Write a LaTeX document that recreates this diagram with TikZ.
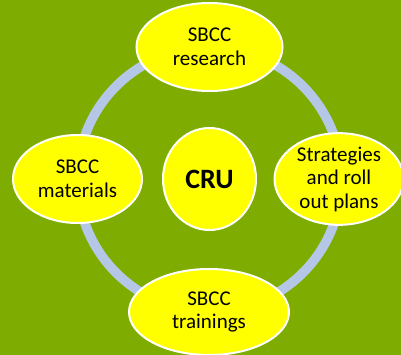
\documentclass[tikz,border=0pt]{standalone}
\usepackage{fontspec}
\setmainfont{Carlito}
\usetikzlibrary{shapes.geometric}
\definecolor{bggreen}{RGB}{127,172,0}
\definecolor{ringblue}{RGB}{180,199,231}
\definecolor{nodeyellow}{RGB}{255,255,0}
\tikzset{
  bubble/.style={ellipse, draw=white, line width=2pt, fill=nodeyellow, inner sep=0pt,
    align=center, font=\fontsize{21}{23.5}\selectfont, text=black},
  ring/.style={draw=ringblue, line width=9.5pt}
}
\begin{document}
\begin{tikzpicture}[x=1pt,y=-1pt]
\fill[bggreen] (0,0) rectangle (401,355);
\useasboundingbox (0,0) rectangle (401,355);
\coordinate (c) at (209.5,179.5);
\draw[ring] (c) circle (132pt);
\node[bubble, minimum width=93pt, minimum height=102pt, font=\fontsize{28}{30}\selectfont\bfseries] (cru) at (209.5,179) {CRU};
\node[bubble, minimum width=146pt, minimum height=88pt] (research) at (209.5,47) {SBCC\\research};
\node[bubble, minimum width=129pt, minimum height=88pt] (strat) at (339,179) {Strategies\\and roll\\out plans};
\node[bubble, minimum width=129pt, minimum height=88pt] (materials) at (77.5,179) {SBCC\\materials};
\node[bubble, minimum width=160pt, minimum height=86pt] (training) at (209,312) {SBCC\\trainings};
\end{tikzpicture}
\end{document}
